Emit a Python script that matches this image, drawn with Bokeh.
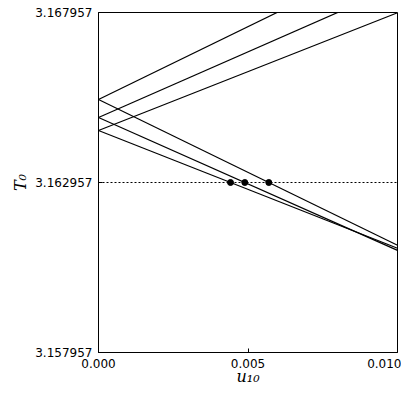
from bokeh.plotting import figure
from bokeh.models import Range1d, FixedTicker, Span, PrintfTickFormatter
from bokeh.embed import file_html
from bokeh.resources import INLINE

# ---- data ----
x_ticks = [0.0, 0.005, 0.010]
y_ticks = [3.157957, 3.162957, 3.167957]
T_level = 3.162957

u_line = [0.0, 0.0100]                       # each branch is a straight line in u
T_start = [3.165398, 3.164869, 3.164486]      # value at u = 0
T_up_end = [3.169684, 3.168730, 3.167949]     # increasing branches at u = 0.01
T_down_end = [3.161112, 3.160961, 3.161023]   # decreasing branches at u = 0.01

dot_u = [0.004415, 0.004893, 0.005696]        # crossings with T = 3.162957
dot_T = [T_level, T_level, T_level]

p = figure(frame_width=299, frame_height=340,
           x_range=Range1d(x_ticks[0], x_ticks[-1]),
           y_range=Range1d(y_ticks[0], y_ticks[-1]),
           output_backend="svg", toolbar_location=None,
           min_border_left=98, min_border_right=4,
           min_border_top=12, min_border_bottom=10)

p.xgrid.visible = False
p.ygrid.visible = False
p.outline_line_color = "black"
p.outline_line_width = 1
p.outline_line_alpha = 1.0
p.background_fill_color = "white"
p.border_fill_color = "white"

xa = p.xaxis[0]
xa.ticker = FixedTicker(ticks=x_ticks)
xa.formatter = PrintfTickFormatter(format="%.3f")
xa.major_label_text_align = "right"
ya = p.yaxis[0]
ya.ticker = FixedTicker(ticks=y_ticks)
ya.formatter = PrintfTickFormatter(format="%.6f")

for ax in (xa, ya):
    ax.major_tick_in = 4
    ax.major_tick_out = 0
    ax.minor_tick_in = 0
    ax.minor_tick_out = 0
    ax.axis_line_color = "black"
    ax.major_tick_line_color = "black"
    ax.major_label_text_font = "DejaVu Sans"
    ax.major_label_text_font_size = "12px"
    ax.major_label_text_color = "black"
    ax.major_label_standoff = 6
    ax.axis_label_text_font = "DejaVu Serif"
    ax.axis_label_text_font_style = "italic"
    ax.axis_label_text_font_size = "16px"
    ax.axis_label_text_color = "black"

xa.axis_label = "u\u2081\u2080"
xa.axis_label_standoff = -4
ya.axis_label = "T\u2080"
ya.axis_label_standoff = 2

p.add_layout(Span(location=T_level, dimension="width", line_color="black",
                  line_width=1.2, line_dash="2 2"))

for t0, tu, td in zip(T_start, T_up_end, T_down_end):
    p.line(u_line, [t0, tu], line_color="black", line_width=1.2)
    p.line(u_line, [t0, td], line_color="black", line_width=1.2)

p.scatter(dot_u, dot_T, size=6, color="black")

open("out.html", "w").write(file_html(p, INLINE))
